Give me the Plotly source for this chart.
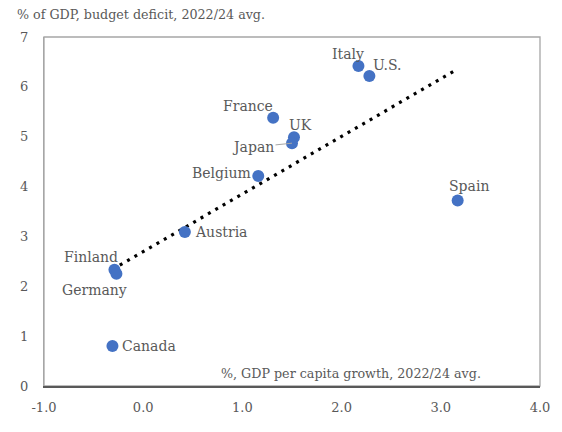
import numpy as np
import plotly.graph_objects as go

countries = ["Italy", "U.S.", "France", "UK", "Japan", "Belgium", "Spain",
             "Austria", "Finland", "Germany", "Canada"]
gdp_pc_growth = [2.17, 2.28, 1.31, 1.52, 1.50, 1.16, 3.17, 0.42, -0.29, -0.27, -0.31]
budget_deficit = [6.42, 6.22, 5.38, 4.99, 4.87, 4.21, 3.72, 3.09, 2.33, 2.25, 0.80]

x_ticks = [-1, 0, 1, 2, 3, 4]
x_ticklabels = ["-1.0", "0.0", "1.0", "2.0", "3.0", "4.0"]
y_ticks = [0, 1, 2, 3, 4, 5, 6, 7]

y_title = "% of GDP, budget deficit, 2022/24 avg."
x_title = "%, GDP per capita growth, 2022/24 avg."

FONT = "DejaVu Serif"
TXT = "#595959"
FS = 14
FS_TITLE = 12.7

# page body has an 8px margin: figure is sized/offset to compensate
W, H = 554, 424
ML, MR, MT, MB = 34, 22, 29, 46
PW = W - ML - MR
PH = H - MT - MB

# label placement (pixel offsets relative to each point)
label_pos = {
    "Italy":   dict(xanchor="center", xshift=-10, yshift=12),
    "U.S.":    dict(xanchor="left", xshift=2, yshift=11),
    "France":  dict(xanchor="center", xshift=-25, yshift=12),
    "UK":      dict(xanchor="left", xshift=-7, yshift=12),
    "Belgium": dict(xanchor="right", xshift=-5, yshift=3),
    "Spain":   dict(xanchor="center", xshift=11, yshift=15),
    "Austria": dict(xanchor="left", xshift=8, yshift=0),
    "Finland": dict(xanchor="right", xshift=6, yshift=13),
    "Germany": dict(xanchor="center", xshift=-22, yshift=-16),
    "Canada":  dict(xanchor="left", xshift=8, yshift=0),
}

# linear trendline (least squares) across the data range
xa = np.array(gdp_pc_growth)
ya = np.array(budget_deficit)
slope, intercept = np.polyfit(xa, ya, 1)
tx = np.array([xa.min(), xa.max()])
ty = slope * tx + intercept

fig = go.Figure()
fig.add_trace(go.Scatter(
    x=tx, y=ty, mode="lines",
    line=dict(color="black", width=3.2, dash="3px,5.5px"),
    hoverinfo="skip", showlegend=False))
fig.add_trace(go.Scatter(
    x=gdp_pc_growth, y=budget_deficit, mode="markers",
    marker=dict(color="#4472C4", size=12, line=dict(width=0)),
    text=countries, showlegend=False))

annotations = []
for c, xv, yv in zip(countries, gdp_pc_growth, budget_deficit):
    if c == "Japan":
        annotations.append(dict(
            x=xv, y=yv, xref="x", yref="y", text=c, showarrow=True,
            arrowhead=0, arrowwidth=1, arrowcolor="#A6A6A6", standoff=0,
            ax=-39, ay=4, font=dict(family=FONT, size=FS, color=TXT)))
        continue
    p = label_pos[c]
    annotations.append(dict(
        x=xv, y=yv, xref="x", yref="y", text=c, showarrow=False,
        xanchor=p["xanchor"], yanchor="middle",
        xshift=p["xshift"], yshift=p["yshift"],
        font=dict(family=FONT, size=FS, color=TXT)))

# axis titles (positions in pixels of the page, converted to paper coords)
def px_to_paper(px, py):
    fx, fy = px - 8, py - 8
    return (fx - ML) / PW, (H - MB - fy) / PH

tx0, ty0 = px_to_paper(13, 15)
annotations.append(dict(
    x=tx0, y=ty0, xref="paper", yref="paper", text=y_title, showarrow=False,
    xanchor="left", yanchor="middle", font=dict(family=FONT, size=FS_TITLE, color=TXT)))
tx1, ty1 = px_to_paper(483, 373)
annotations.append(dict(
    x=tx1, y=ty1, xref="paper", yref="paper", text=x_title, showarrow=False,
    xanchor="right", yanchor="middle", font=dict(family=FONT, size=FS_TITLE, color=TXT)))

fig.update_layout(
    width=W, height=H,
    margin=dict(l=ML, r=MR, t=MT, b=MB, pad=0),
    paper_bgcolor="white", plot_bgcolor="white",
    font=dict(family=FONT, size=FS, color=TXT),
    annotations=annotations,
    shapes=[dict(type="rect", xref="paper", yref="paper", x0=0, y0=0, x1=1, y1=1,
                 line=dict(color="#A6A6A6", width=1.3), layer="below")],
    xaxis=dict(range=[-1, 4], tickvals=x_ticks, ticktext=x_ticklabels,
               showgrid=False, zeroline=False, showline=True,
               linecolor="#595959", linewidth=1.6,
               ticks="outside", ticklen=9, tickcolor="rgba(0,0,0,0)",
               tickfont=dict(family=FONT, size=13, color=TXT)),
    yaxis=dict(range=[0, 7], tickvals=y_ticks,
               showgrid=False, zeroline=False, showline=True,
               linecolor="#A6A6A6", linewidth=1.3,
               ticks="outside", ticklen=12, tickcolor="rgba(0,0,0,0)",
               tickfont=dict(family=FONT, size=13, color=TXT)),
)

fig.write_html("out.html")
